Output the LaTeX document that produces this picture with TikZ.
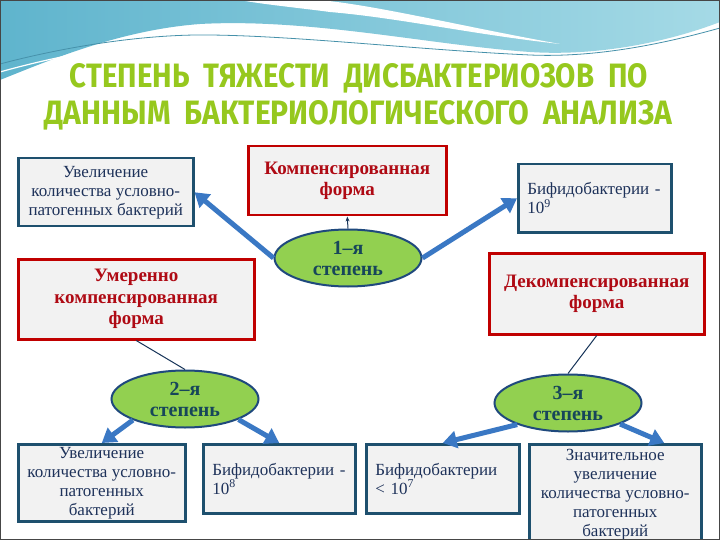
\documentclass[tikz,border=0pt]{standalone}
\usepackage{fontspec}
\usepackage{graphicx}
\setmainfont{Liberation Serif}
\newfontfamily\titlefont{Fira Sans}
\usetikzlibrary{arrows.meta,shapes.geometric,calc}
\definecolor{boxfill}{RGB}{242,242,242}
\definecolor{redline}{RGB}{192,0,0}
\definecolor{redtext}{RGB}{175,10,20}
\definecolor{blueline}{RGB}{30,80,110}
\definecolor{bluetext}{RGB}{30,50,90}
\definecolor{ellfill}{RGB}{146,208,80}
\definecolor{ellline}{RGB}{31,73,125}
\definecolor{elltext}{RGB}{23,70,90}
\definecolor{arrowblue}{RGB}{58,120,196}
\definecolor{titlegreen}{RGB}{150,200,30}
\definecolor{topL}{RGB}{95,180,205}
\definecolor{topR}{RGB}{165,218,230}
\definecolor{waveline}{RGB}{70,145,170}
\definecolor{framecol}{RGB}{70,70,70}
\begin{document}
\begin{tikzpicture}[x=1pt,y=-1pt,
  bluebox/.style={draw=blueline, line width=2.5pt, fill=boxfill, inner sep=0pt, text=bluetext,
    font=\fontsize{17}{19}\selectfont, align=center, anchor=north west},
  blueleft/.style={bluebox, align=left, inner xsep=9pt},
  redbox/.style={draw=redline, line width=2.5pt, fill=boxfill, inner sep=0pt, text=redtext,
    font=\fontsize{19}{21.5}\selectfont\bfseries, align=center, anchor=north west},
  degree/.style={ellipse, draw=ellline, line width=2pt, fill=ellfill, minimum width=147pt,
    minimum height=57pt, inner sep=0pt, text=elltext, font=\fontsize{20}{21}\selectfont\bfseries, align=center},
  bigarrow/.style={draw=arrowblue, line width=5pt, -{Triangle[length=14pt,width=17pt]}},
  thinline/.style={draw=ellline!70!black, line width=1pt},
  titletext/.style={inner sep=0pt, anchor=base, text=titlegreen, font=\titlefont\bfseries}
]
\useasboundingbox (0,0) rectangle (720,540);
\fill[white] (0,0) rectangle (720,540);
% top wave
\shade[left color=topL, right color=topR] (0,0) -- (720,0) -- (720,22)
  .. controls (660,45) and (590,56) .. (530,52)
  .. controls (430,45) and (310,18) .. (200,24)
  .. controls (120,30) and (50,60) .. (0,80) -- cycle;
\fill[white] (320,0) .. controls (380,6) and (460,26) .. (560,44)
  .. controls (470,34) and (400,18) .. (330,12) .. controls (300,8) and (260,4) .. (240,0) -- cycle;
\draw[waveline, line width=0.8pt] (0,64) .. controls (60,48) and (140,34) .. (210,35)
  .. controls (300,36) and (420,50) .. (530,55) .. controls (600,58) and (670,42) .. (720,28);
\draw[white, line width=1.2pt] (0,72) .. controls (60,55) and (140,40) .. (210,40)
  .. controls (300,40) and (420,54) .. (530,60) .. controls (600,62) and (670,46) .. (720,32);

% title
\node[titletext] (t1) at (359,88) {\resizebox{578pt}{24pt}{СТЕПЕНЬ\ \ ТЯЖЕСТИ\ \ ДИСБАКТЕРИОЗОВ\ \ ПО}};
\node[titletext] (t2) at (358.5,125) {\resizebox{627pt}{24pt}{ДАННЫМ\ \ БАКТЕРИОЛОГИЧЕСКОГО\ \ АНАЛИЗА}};

% boxes
\node[bluebox, minimum width=175pt, minimum height=68pt] (b1) at (17,157)
  {Увеличение\\количества условно-\\патогенных бактерий};
\node[redbox, minimum width=198pt, minimum height=69pt] (b2) at (247,145)
  {Компенсированная\\форма};
\node[blueleft, minimum width=153pt, minimum height=68pt, text width=135pt] (b3) at (517,163)
  {Бифидобактерии -\\10\textsuperscript{9}};
\node[redbox, minimum width=236pt, minimum height=80pt] (b4) at (17,258)
  {Умеренно\\компенсированная\\форма};
\node[redbox, minimum width=215pt, minimum height=81pt] (b5) at (488,252)
  {Декомпенсированная\\форма};
\node[bluebox, minimum width=167pt, minimum height=77pt] (b9) at (17,443)
  {Увеличение\\количества условно-\\патогенных\\бактерий};
\node[blueleft, minimum width=152pt, minimum height=69pt, text width=134pt] (b10) at (202,443)
  {Бифидобактерии -\\10\textsuperscript{8}};
\node[blueleft, minimum width=153pt, minimum height=69pt, text width=135pt] (b11) at (365,443)
  {Бифидобактерии\\< 10\textsuperscript{7}};
\node[bluebox, minimum width=172pt, minimum height=100pt] (b12) at (528,443)
  {Значительное\\увеличение\\количества условно-\\патогенных\\бактерий};

% ellipses
\node[degree] (e1) at (348,258) {1–я\\степень};
\node[degree] (e2) at (185,399) {2–я\\степень};
\node[degree] (e3) at (568,403) {3–я\\степень};

% connectors
\draw[bigarrow] (e1.west) -- (b1.east);
\draw[bigarrow] (e1.east) -- (b3.west);
\draw[thinline, -{Stealth[length=5pt,width=4pt]}] (e1.north) -- (b2.south);
\draw[thinline] (b4.south) -- (e2.north);
\draw[thinline] (b5.south) -- (e3.north);
\draw[bigarrow] (e2.202) -- (b9.north);
\draw[bigarrow] (e2.339) -- (b10.north);
\draw[bigarrow] (e3.203) -- (b11.north);
\draw[bigarrow] (e3.338) -- ([xshift=49pt]b12.north);

% frame
\draw[framecol, line width=2pt] (0,0) rectangle (720,540);
\end{tikzpicture}
\end{document}
